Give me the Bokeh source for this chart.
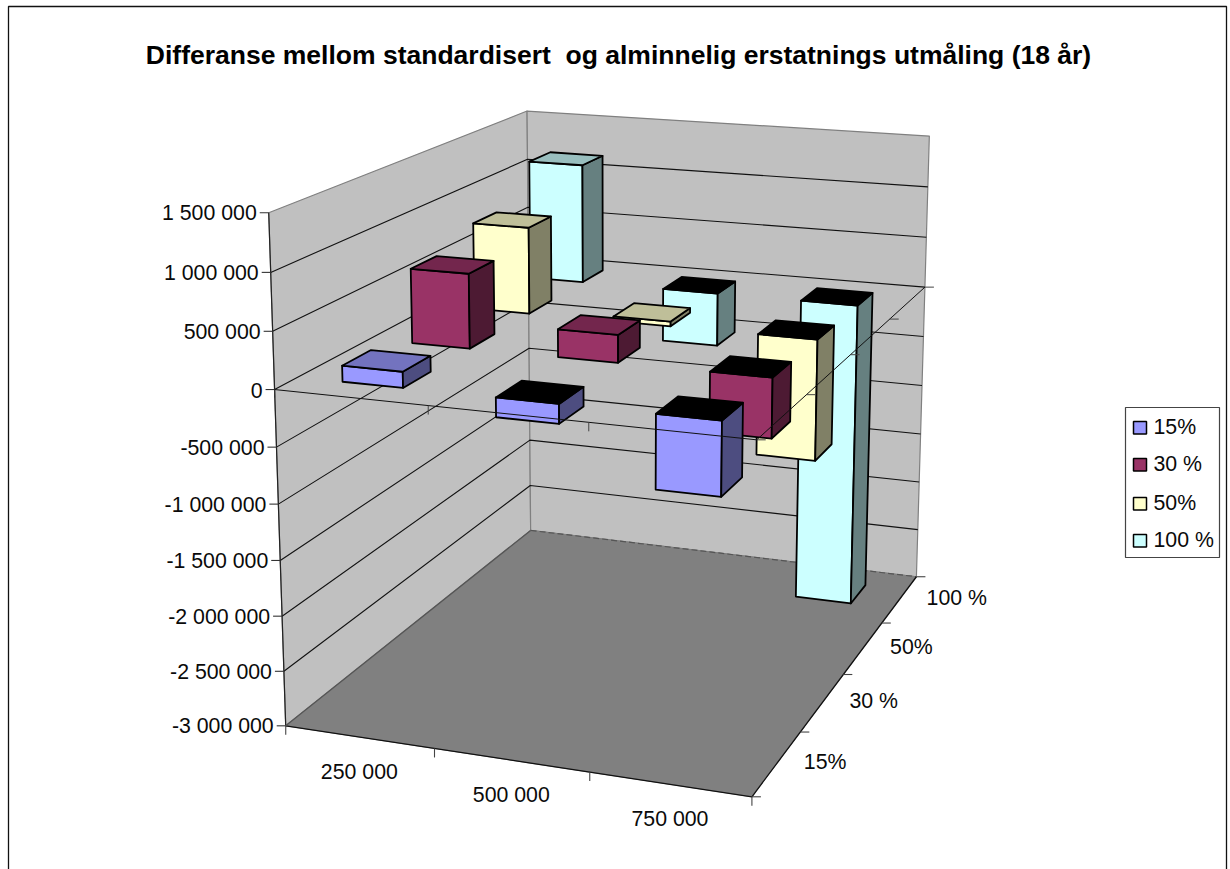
from bokeh.embed import file_html
from bokeh.plotting import figure
from bokeh.resources import INLINE
from bokeh.core.properties import value
import numpy as np

TITLE = "Differanse mellom standardisert\u00a0 og alminnelig erstatnings utmåling (18 år)"
amounts = ["250 000", "500 000", "750 000"]
series_names = ["15%", "30 %", "50%", "100 %"]
z_ticks = [1500000, 1000000, 500000, 0, -500000, -1000000, -1500000, -2000000, -2500000, -3000000]
z_labels = ["1 500 000", "1 000 000", "500 000", "0", "-500 000", "-1 000 000",
            "-1 500 000", "-2 000 000", "-2 500 000", "-3 000 000"]

values_15 = [140000, -170000, -640000]
values_30 = [680000, 250000, -540000]
values_50 = [820000, 45000, -1140000]
values_100 = [1170000, -520000, -3000000]

face_colors = ["#9999FF", "#993366", "#FFFFCC", "#CCFFFF"]
top_colors = ["#7373BF", "#73264D", "#BFBF99", "#99BFBF"]
side_colors = ["#4D4D80", "#4D1A33", "#808066", "#668080"]

ZMIN, ZMAX = -3000000, 1500000
NX, NY = len(amounts), len(series_names)
FONT = value("Liberation Sans")
LABEL_SIZE = "21.3px"

# Camera: a projective map fitted to where the box corners and axis ticks fall on the page.
camera_pairs = [
    ((0, 0, ZMIN), (285, 724)), ((NX, 0, ZMIN), (751, 796)),
    ((NX, NY, ZMIN), (916, 576)), ((0, NY, ZMIN), (530, 531)),
    ((0, 0, ZMAX), (268, 212)), ((0, NY, ZMAX), (527, 111)), ((NX, NY, ZMAX), (929, 135)),
    ((0, 0, 0), (274, 390)), ((NX, 0, 0), (757, 440)),
    ((NX, NY, 0), (923, 287)), ((0, NY, 0), (528, 253)),
    ((1, 0, ZMIN), (434, 748)), ((2, 0, ZMIN), (589, 772)),
    ((NX, 1, ZMIN), (800, 732)), ((NX, 2, ZMIN), (843, 673)), ((NX, 3, ZMIN), (882, 623)),
]


def fit_camera(pairs):
    rows, rhs = [], []
    for (x, y, z), (u, v) in pairs:
        z = z / 1e6
        rows.append([x, y, z, 1, 0, 0, 0, 0, -u * x, -u * y, -u * z])
        rhs.append(u)
        rows.append([0, 0, 0, 0, x, y, z, 1, -v * x, -v * y, -v * z])
        rhs.append(v)
    sol = np.linalg.lstsq(np.array(rows, float), np.array(rhs, float), rcond=None)[0]
    return np.append(sol, 1.0).reshape(3, 4)


CAM = fit_camera(camera_pairs)


def proj(x, y, z):
    h = CAM @ np.array([x, y, z / 1e6, 1.0])
    return h[0] / h[2], h[1] / h[2]


def quad(corners):
    pts = [proj(*c) for c in corners]
    return [a for a, _ in pts], [b for _, b in pts]


p = figure(width=1230, height=869, x_range=(0, 1230), y_range=(869, 0),
           output_backend="svg", toolbar_location=None, min_border=0,
           background_fill_color="white", border_fill_color="white")
p.axis.visible = False
p.grid.visible = False
p.outline_line_color = None


def face(corners, fill, line="black", width=1.8):
    xs, ys = quad(corners)
    p.patch(xs, ys, fill_color=fill, line_color=line, line_width=width, line_join="round")


def seg(a, b, color="black", width=1.0, dash="solid"):
    p.line([a[0], b[0]], [a[1], b[1]], line_color=color, line_width=width, line_dash=dash)


def label(x, y, text, align, size=LABEL_SIZE, style="normal", color="#0A0A0A"):
    p.text([x], [y], text=[text], text_align=align, text_baseline="middle", text_font=FONT,
           text_font_size=size, text_font_style=style, text_color=color)


# Outer chart frame, open at the bottom of the page
p.line([8, 8, 1226, 1226], [869, 6, 6, 869], line_color="#111111", line_width=1.3)

# Walls and floor
face([(0, 0, ZMIN), (0, NY, ZMIN), (0, NY, ZMAX), (0, 0, ZMAX)], "#C0C0C0", "#808080", 1.2)
face([(0, NY, ZMIN), (NX, NY, ZMIN), (NX, NY, ZMAX), (0, NY, ZMAX)], "#C0C0C0", "#808080", 1.2)
face([(0, 0, ZMIN), (NX, 0, ZMIN), (NX, NY, ZMIN), (0, NY, ZMIN)], "#808080", "#808080", 1.0)

# Gridlines round the two walls; the zero level stays behind the bars on its far edges
for z in z_ticks[1:-1]:
    a, b, c = proj(0, 0, z), proj(0, NY, z), proj(NX, NY, z)
    p.line([a[0], b[0], c[0]], [a[1], b[1], c[1]], line_color="#111111", line_width=1.1)
seg(proj(0, NY, ZMIN), proj(NX, NY, ZMIN), "#555555", 1.2, "6 3")

# Value axis with its ticks and labels
seg(proj(0, 0, ZMAX), proj(0, 0, ZMIN), "#222222", 1.2)
for z, text in zip(z_ticks, z_labels):
    u, v = proj(0, 0, z)
    seg((u - 9, v), (u, v), "#333333", 1.1)
    label(u - 12, v + 0.5, text, "right")
u, v = proj(0, 0, ZMIN)
seg((u, v), (u, v + 9), "#555555", 1.2)
u, v = proj(0, 0, 0)
seg((u, v), (u, v + 8), "#333333", 1.1)

# Bars, drawn from the back row to the front one
BAR_LO, BAR_HI = 0.3, 0.7
rows = [values_15, values_30, values_50, values_100]
for j in reversed(range(NY)):
    for i in range(NX):
        val = rows[j][i]
        x0, x1 = i + BAR_LO, i + BAR_HI
        y0, y1 = j + BAR_LO, j + BAR_HI
        upper, lower = max(val, 0), min(val, 0)
        face([(x0, y0, lower), (x1, y0, lower), (x1, y0, upper), (x0, y0, upper)], face_colors[j])
        face([(x1, y0, lower), (x1, y1, lower), (x1, y1, upper), (x1, y0, upper)], side_colors[j])
        face([(x0, y0, upper), (x1, y0, upper), (x1, y1, upper), (x0, y1, upper)],
             top_colors[j] if val >= 0 else "#000000")

# Floor edges and ticks
seg(proj(0, 0, ZMIN), proj(NX, 0, ZMIN), "#111111", 1.3)
seg(proj(NX, 0, ZMIN), proj(NX, NY, ZMIN), "#111111", 1.3)
seg(proj(0, 0, ZMIN), proj(0, NY, ZMIN), "#555555", 1.2)
for i in range(1, NX + 1):
    u, v = proj(i, 0, ZMIN)
    seg((u, v), (u, v + 9), "#444444", 1.1)
for j in range(0, NY + 1):
    u, v = proj(NX, j, ZMIN)
    seg((u, v), (u + 9, v), "#444444", 1.1)

# The zero plane's near edges run across the bars
seg(proj(0, 0, 0), proj(NX, 0, 0), "#111111", 1.0)
seg(proj(NX, 0, 0), proj(NX, NY, 0), "#111111", 1.0)
for i in range(1, NX):
    u, v = proj(i, 0, 0)
    seg((u, v), (u, v + 9), "#444444", 1.0)
for j in range(0, NY + 1):
    u, v = proj(NX, j, 0)
    seg((u, v), (u + 9, v), "#444444", 1.0)

# Category labels
for i, text in enumerate(amounts):
    u, v = proj(i + 0.5, 0, ZMIN)
    label(u, v + 34.5, text, "center")
for j, text in enumerate(series_names):
    u, v = proj(NX, j + 0.5, ZMIN)
    label(u + 27, v - 1, text, "left")

# Title
label(618, 54, TITLE, "center", size="26.5px", style="bold", color="#000000")

# Legend
p.quad(left=[1125], right=[1219], top=[407], bottom=[557], fill_color="white",
       line_color="#444444", line_width=1.2)
legend_top = [421, 458, 497, 534]
for name, color, top in zip(series_names, face_colors, legend_top):
    p.quad(left=[1133], right=[1146], top=[top], bottom=[top + 12.5], fill_color=color,
           line_color="black", line_width=1.5)
    label(1153, top + 5.5, name, "left")

open("out.html", "w").write(file_html(p, INLINE))
